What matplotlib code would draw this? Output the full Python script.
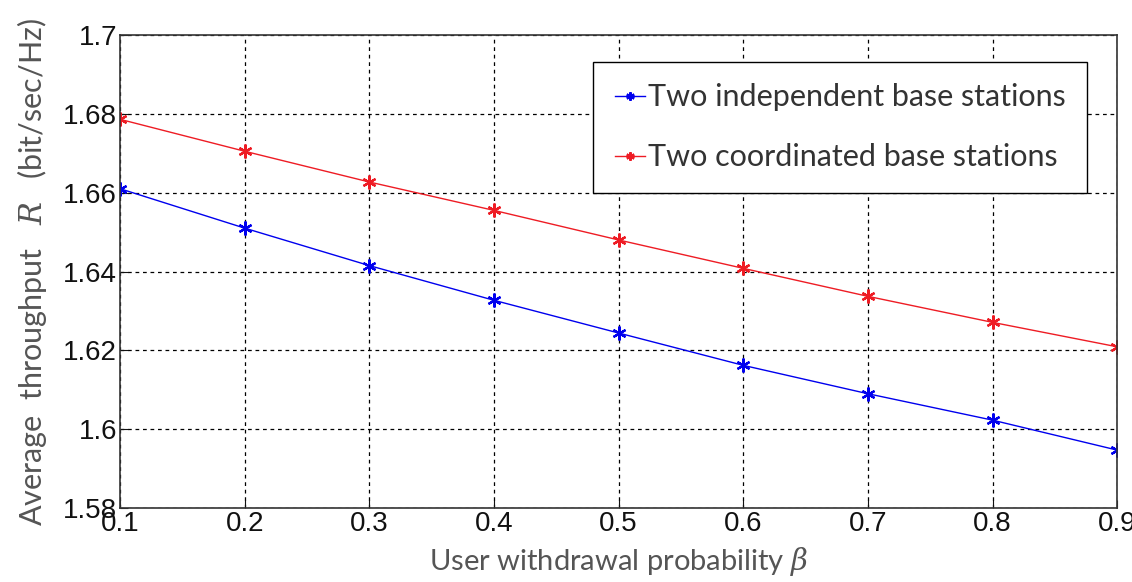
import matplotlib.pyplot as plt

plt.rcParams['mathtext.fontset'] = 'custom'
plt.rcParams['mathtext.it'] = 'DejaVu Serif:italic'

beta = [0.1, 0.2, 0.3, 0.4, 0.5, 0.6, 0.7, 0.8, 0.9]
independent = [1.6610, 1.6510, 1.6415, 1.6327, 1.6244, 1.6162, 1.6090, 1.6023, 1.5947]
coordinated = [1.6786, 1.6705, 1.6627, 1.6555, 1.6480, 1.6408, 1.6337, 1.6271, 1.6209]

xticks = [0.1, 0.2, 0.3, 0.4, 0.5, 0.6, 0.7, 0.8, 0.9]
yticks = [1.58, 1.6, 1.62, 1.64, 1.66, 1.68, 1.7]
yticklabels = ['1.58', '1.6', '1.62', '1.64', '1.66', '1.68', '1.7']

fig = plt.figure(figsize=(11.32, 5.82), dpi=100)
ax = fig.add_axes([0.106, 0.127, 0.881, 0.813])

star = (6, 2, 0)
ax.plot(beta, independent, '-', color='#0000ee', lw=1.0, marker=star,
        ms=10, mew=1.6, label='Two independent base stations')
ax.plot(beta, coordinated, '-', color='#ee1c24', lw=1.0, marker=star,
        ms=10, mew=1.6, label='Two coordinated base stations')

ax.set_xlim(0.1, 0.9)
ax.set_ylim(1.58, 1.7)
ax.set_xticks(xticks)
ax.set_xticklabels([str(t) for t in xticks])
ax.set_yticks(yticks)
ax.set_yticklabels(yticklabels)
ax.tick_params(direction='in', length=6, labelsize=20, pad=2, colors='#111111')
for lab in ax.get_xticklabels() + ax.get_yticklabels():
    lab.set_family('Liberation Sans')

ax.grid(True, color='black', linestyle=(0, (3, 3)), lw=0.9)
for s in ax.spines.values():
    s.set_color('#333333')
    s.set_linewidth(1.2)

ax.set_xlabel(r'User withdrawal probability $\mathit{\beta}$', labelpad=6,
              family='Lato', fontsize=21, color='#555555')
ax.set_ylabel(r'Average  throughput   $\mathit{R}$   (bit/sec/Hz)', labelpad=10,
              family='Lato', fontsize=22, color='#555555')

leg = ax.legend(loc='upper right', bbox_to_anchor=(0.970, 0.943), borderaxespad=0,
                fancybox=False, edgecolor='black', framealpha=1,
                handlelength=1.0, handletextpad=0.1, borderpad=0.7,
                labelspacing=1.05, markerscale=0.6,
                prop={'family': 'Lato', 'size': 22})
leg.get_frame().set_linewidth(1.0)
for t in leg.get_texts():
    t.set_color('#333333')

fig.savefig('out.png', dpi=100)
